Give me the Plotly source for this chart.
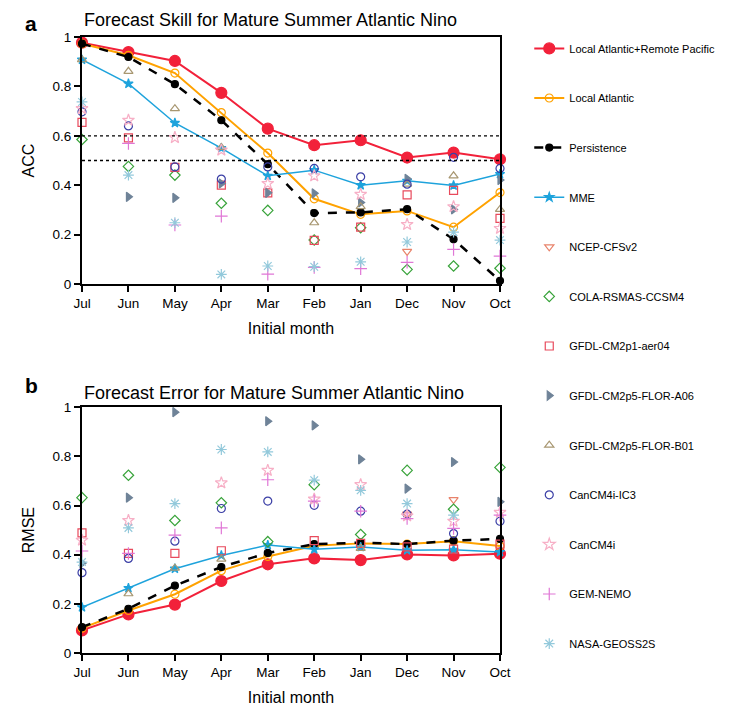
import plotly.graph_objects as go
from plotly.subplots import make_subplots

FONT = "Liberation Sans, Arial, sans-serif"

months = ["Jul", "Jun", "May", "Apr", "Mar", "Feb", "Jan", "Dec", "Nov", "Oct"]

# panel a: anomaly correlation coefficient
lar_acc = [0.977, 0.939, 0.903, 0.774, 0.629, 0.562, 0.582, 0.512, 0.532, 0.505]
la_acc = [0.973, 0.926, 0.854, 0.694, 0.530, 0.345, 0.282, 0.296, 0.230, 0.370]
pers_acc = [0.973, 0.919, 0.809, 0.663, 0.485, 0.287, 0.290, 0.303, 0.181, 0.013]
mme_acc = [0.908, 0.811, 0.652, 0.550, 0.438, 0.461, 0.400, 0.418, 0.399, 0.445]
ncep_acc = [None, None, None, None, None, None, None, 0.132, None, None]
cola_acc = [0.585, 0.476, 0.441, 0.327, 0.298, 0.178, 0.228, 0.059, 0.073, 0.064]
aer04_acc = [0.654, 0.592, 0.472, 0.400, 0.369, 0.177, 0.230, 0.361, 0.379, 0.266]
a06_acc = [None, 0.353, 0.349, 0.407, 0.369, 0.367, 0.330, 0.426, 0.302, 0.421]
b01_acc = [0.908, 0.861, 0.710, 0.553, None, 0.248, 0.313, 0.404, 0.438, 0.302]
ic3_acc = [0.697, 0.640, 0.474, 0.425, 0.474, 0.468, 0.434, 0.404, 0.513, 0.468]
cancm4i_acc = [0.710, 0.663, 0.593, 0.542, 0.407, 0.438, 0.363, 0.241, 0.313, 0.225]
gem_acc = [None, 0.569, 0.239, 0.275, 0.040, 0.067, 0.062, 0.088, 0.140, 0.113]
nasa_acc = [0.737, 0.441, 0.248, 0.039, 0.073, 0.070, 0.090, 0.170, 0.210, 0.178]

# panel b: root mean square error
lar_rmse = [0.092, 0.157, 0.197, 0.293, 0.361, 0.385, 0.378, 0.401, 0.397, 0.404]
la_rmse = [0.101, 0.173, 0.239, 0.335, 0.393, 0.436, 0.446, 0.443, 0.455, 0.435]
pers_rmse = [0.105, 0.180, 0.274, 0.350, 0.407, 0.443, 0.449, 0.443, 0.457, 0.464]
mme_rmse = [0.186, 0.264, 0.343, 0.397, 0.439, 0.422, 0.431, 0.418, 0.420, 0.411]
ncep_rmse = [None, None, None, None, None, None, None, 0.565, 0.624, None]
cola_rmse = [0.632, 0.723, 0.539, 0.611, 0.453, 0.685, 0.482, 0.743, 0.585, 0.755]
aer04_rmse = [0.489, 0.405, 0.405, 0.416, None, 0.457, 0.446, 0.432, 0.423, 0.443]
a06_rmse = [0.365, 0.632, 0.980, None, 0.943, 0.926, 0.788, 0.669, 0.777, 0.615]
b01_rmse = [None, 0.241, 0.345, 0.382, None, None, 0.426, None, None, None]
ic3_rmse = [0.327, 0.385, 0.455, 0.588, 0.618, 0.601, 0.577, 0.565, 0.486, 0.536]
cancm4i_rmse = [0.459, 0.539, None, 0.692, 0.743, 0.626, 0.685, 0.558, 0.536, 0.572]
gem_rmse = [0.415, 0.405, 0.480, 0.509, 0.705, 0.618, 0.577, 0.547, 0.507, 0.561]
nasa_rmse = [0.370, 0.509, 0.608, 0.828, 0.818, 0.703, 0.662, 0.608, 0.561, None]

thresholds = [0.6, 0.5]

x_pos = list(range(len(months)))

# name, acc, rmse, color, symbol, size, line dict (None = markers only)
series = [
    ("Local Atlantic+Remote Pacific", lar_acc, lar_rmse, "#F2213A", "circle", 11, dict(width=2)),
    ("Local Atlantic", la_acc, la_rmse, "#FFA200", "circle-open", 8, dict(width=2)),
    ("Persistence", pers_acc, pers_rmse, "black", "circle", 7, dict(width=2.5, dash="dash")),
    ("MME", mme_acc, mme_rmse, "#1EA3DC", "star", 7, dict(width=1.5)),
    ("NCEP-CFSv2", ncep_acc, ncep_rmse, "#E8836B", "triangle-down-open", 8, None),
    ("COLA-RSMAS-CCSM4", cola_acc, cola_rmse, "#38A33A", "diamond-open", 8, None),
    ("GFDL-CM2p1-aer04", aer04_acc, aer04_rmse, "#E84A5C", "square-open", 8, None),
    ("GFDL-CM2p5-FLOR-A06", a06_acc, a06_rmse, "#6F8398", "triangle-right", 8, None),
    ("GFDL-CM2p5-FLOR-B01", b01_acc, b01_rmse, "#A89771", "triangle-up-open", 8, None),
    ("CanCM4i-IC3", ic3_acc, ic3_rmse, "#3B3FA6", "circle-open", 8, None),
    ("CanCM4i", cancm4i_acc, cancm4i_rmse, "#F7AFC6", "star-open", 9, None),
    ("GEM-NEMO", gem_acc, gem_rmse, "#E077D6", "cross-thin-open", 9, None),
    ("NASA-GEOSS2S", nasa_acc, nasa_rmse, "#93C9DB", "asterisk-open", 9, None),
]

fig = make_subplots(rows=2, cols=1)

for name, acc, rmse, color, symbol, size, line in series:
    for row, vals in ((1, acc), (2, rmse)):
        kw = dict(mode="markers")
        if line is not None:
            kw = dict(mode="lines+markers", line=dict(color=color, **line))
        fig.add_trace(go.Scatter(
            x=x_pos, y=vals, name=name, legendgroup=name, showlegend=(row == 1),
            marker=dict(color=color, symbol=symbol, size=size, line=dict(color=color, width=1.2)),
            cliponaxis=False, **kw), row=row, col=1)

# dotted reference lines on the ACC panel
for t in thresholds:
    fig.add_shape(type="line", xref="x", yref="y", x0=0, x1=len(months) - 1, y0=t, y1=t,
                  line=dict(color="black", width=1.3, dash="dot"))

axis_style = dict(showline=True, linewidth=2, linecolor="black", mirror=True, ticks="outside",
                  ticklen=6, tickwidth=2, tickcolor="black", showgrid=False, zeroline=False,
                  automargin=False, tickfont=dict(size=13.5, color="black"))

for r in (1, 2):
    fig.update_xaxes(range=[0, len(months) - 1], tickvals=x_pos, ticktext=months,
                     title=dict(text="Initial month", font=dict(size=16), standoff=13),
                     row=r, col=1, **axis_style)
fig.update_yaxes(range=[0, 1], tickvals=[0, 0.2, 0.4, 0.6, 0.8, 1], ticktext=["0", "0.2", "0.4", "0.6", "0.8", "1"],
                 title=dict(text="ACC", font=dict(size=16), standoff=14), row=1, col=1, **axis_style)
fig.update_yaxes(range=[0, 1], tickvals=[0, 0.2, 0.4, 0.6, 0.8, 1], ticktext=["0", "0.2", "0.4", "0.6", "0.8", "1"],
                 title=dict(text="RMSE", font=dict(size=16), standoff=14), row=2, col=1, **axis_style)

fig.update_layout(
    yaxis=dict(domain=[0.599, 1.0]),
    yaxis2=dict(domain=[0.0, 0.399]),
)

# (panel letter, title, top of panel, title shift, letter shift)
titles = [("a", "Forecast Skill for Mature Summer Atlantic Nino", 1.0, 5, 0),
          ("b", "Forecast Error for Mature Summer Atlantic Nino", 0.399, 2, 8)]
for letter, text, ytop, shift, lshift in titles:
    fig.add_annotation(xref="paper", yref="paper", x=0, y=ytop, yanchor="bottom", xanchor="left",
                       text=text, showarrow=False, font=dict(size=18, color="black"), yshift=shift)
    fig.add_annotation(xref="paper", yref="paper", x=-0.14, y=ytop, yanchor="bottom", xanchor="left",
                       text="<b>" + letter + "</b>", showarrow=False, font=dict(size=21, color="black"),
                       yshift=lshift)

# the page adds an 8px body margin, so the margins are offset by it
fig.update_layout(
    width=732, height=715,
    margin=dict(l=74, r=240, t=29, b=70, autoexpand=False),
    plot_bgcolor="white", paper_bgcolor="white",
    font=dict(family=FONT, color="black"),
    legend=dict(x=1.07, y=1.005, xanchor="left", yanchor="top", tracegroupgap=30.6,
                font=dict(size=11), itemwidth=30, bgcolor="rgba(0,0,0,0)", maxheight=700),
)

fig.write_html("out.html")
